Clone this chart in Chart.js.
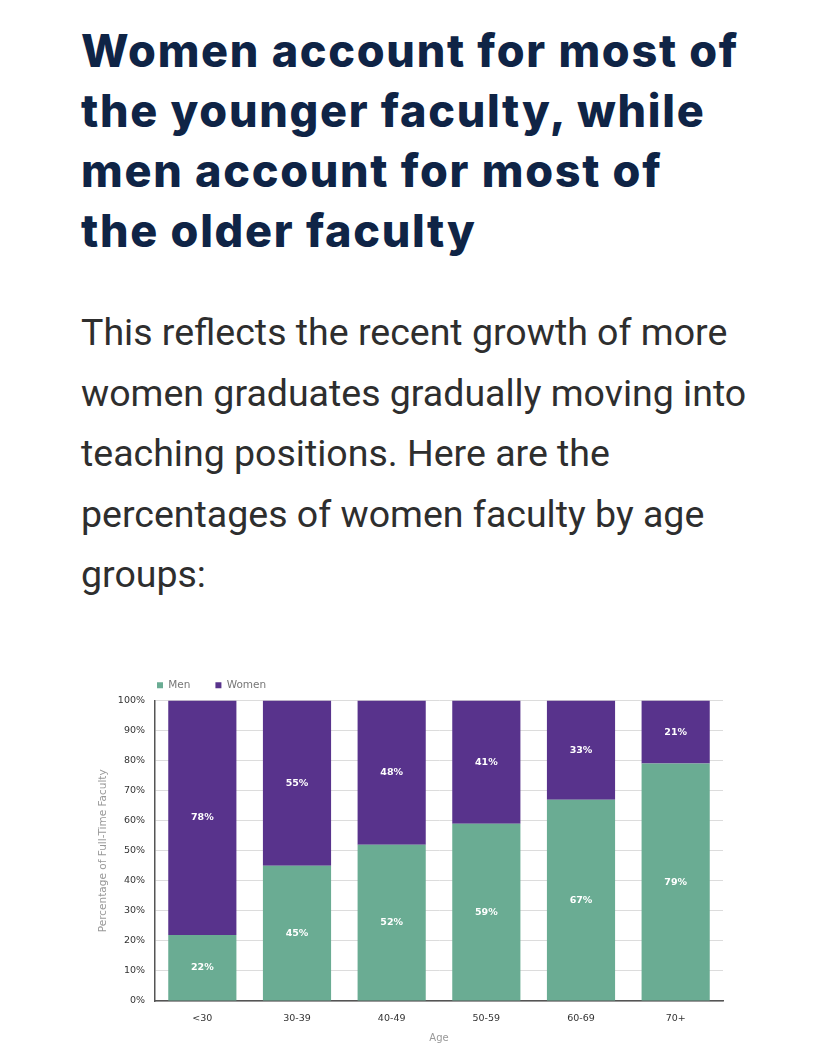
<!DOCTYPE html>
<html>
<head>
<meta charset="utf-8">
<script src="https://cdn.jsdelivr.net/npm/chart.js@4.4.1/dist/chart.umd.min.js"></script>
<style>
  html, body { margin: 0; padding: 0; background: #ffffff; }
  body { width: 828px; height: 1063px; position: relative; overflow: hidden; }
  #title {
    position: absolute; left: 81px; top: 21px; margin: 0;
    font-family: "Inter", sans-serif; font-weight: 800; font-size: 45px;
    line-height: 60px; color: #0f2446; letter-spacing: 1.7px; white-space: nowrap;
  }
  #para {
    position: absolute; left: 81px; top: 302px; margin: 0;
    font-family: "Roboto", sans-serif; font-weight: 400; font-size: 37.5px;
    line-height: 60.5px; color: #2e2e2e; white-space: nowrap;
  }
  #wrap { position: absolute; left: 90px; top: 655px; width: 645px; height: 395px; }
</style>
</head>
<body>
<h1 id="title">Women account for most of<br>the younger faculty, while<br>men account for most of<br>the older faculty</h1>
<p id="para">This reflects the recent growth of more<br>women graduates gradually moving into<br>teaching positions. Here are the<br>percentages of women faculty by age<br>groups:</p>
<div id="wrap"><canvas id="c"></canvas></div>
<script>
const categories = ["<30", "30-39", "40-49", "50-59", "60-69", "70+"];
const menValues = [22, 45, 52, 59, 67, 79];
const womenValues = [78, 55, 48, 41, 33, 21];
const seriesNames = ["Men", "Women"];
const yTicks = [0, 10, 20, 30, 40, 50, 60, 70, 80, 90, 100];

const chartFont = "DejaVu Sans";

const valueLabels = {
  id: "valueLabels",
  afterDatasetsDraw(chart) {
    const ctx = chart.ctx;
    ctx.save();
    ctx.fillStyle = "#ffffff";
    ctx.font = "bold 9.5px '" + chartFont + "'";
    ctx.textAlign = "center";
    ctx.textBaseline = "middle";
    chart.data.datasets.forEach((ds, di) => {
      const meta = chart.getDatasetMeta(di);
      meta.data.forEach((el, i) => {
        const p = el.getProps(["x", "y", "base"], true);
        ctx.fillText(ds.data[i] + "%", p.x, (p.y + p.base) / 2);
      });
    });
    ctx.restore();
  }
};

const legendShift = {
  id: "legendShift",
  afterLayout(chart) {
    const lg = chart.legend;
    if (lg) {
      const pad = lg.options.labels.padding;
      lg.left = chart.chartArea.left + 2 - pad;
    }
  }
};

new Chart(document.getElementById("c"), {
  type: "bar",
  data: {
    labels: categories,
    datasets: [
      { label: seriesNames[0], data: menValues, backgroundColor: "#6aac93", borderWidth: 0 },
      { label: seriesNames[1], data: womenValues, backgroundColor: "#58338c", borderWidth: 0 }
    ]
  },
  options: {
    responsive: true,
    maintainAspectRatio: false,
    animation: false,
    devicePixelRatio: 1,
    layout: { padding: { left: 0, right: 12, top: 0, bottom: 0 } },
    datasets: { bar: { categoryPercentage: 1.0, barPercentage: 0.72 } },
    plugins: {
      tooltip: { enabled: false },
      legend: {
        position: "top",
        align: "start",
        labels: {
          boxWidth: 6, boxHeight: 6, padding: 25,
          color: "#777777",
          font: { family: chartFont, size: 10.5 }
        }
      }
    },
    scales: {
      x: {
        stacked: true,
        grid: { display: false, drawTicks: false },
        border: { display: true, color: "#555555", width: 1.5 },
        ticks: { color: "#333333", padding: 12, font: { family: chartFont, size: 9.5 } },
        title: { display: true, text: "Age", color: "#999999", padding: { top: 0, bottom: 6 }, font: { family: chartFont, size: 10 } },
        afterFit(scale) { scale.height = 49; }
      },
      y: {
        stacked: true,
        min: 0, max: 100,
        afterBuildTicks(scale) { scale.ticks = yTicks.map(v => ({ value: v })); },
        grid: { color: "#dcdcdc", lineWidth: 1, drawTicks: false },
        border: { display: true, color: "#555555", width: 1.5 },
        ticks: { color: "#333333", padding: 10, font: { family: chartFont, size: 9.5 }, callback: v => v + "%" },
        title: { display: true, text: "Percentage of Full-Time Faculty", color: "#999999", padding: { top: 7, bottom: 0 }, font: { family: chartFont, size: 10.5 } },
        afterFit(scale) { scale.width = 65; }
      }
    }
  },
  plugins: [valueLabels, legendShift]
});
</script>
</body>
</html>
